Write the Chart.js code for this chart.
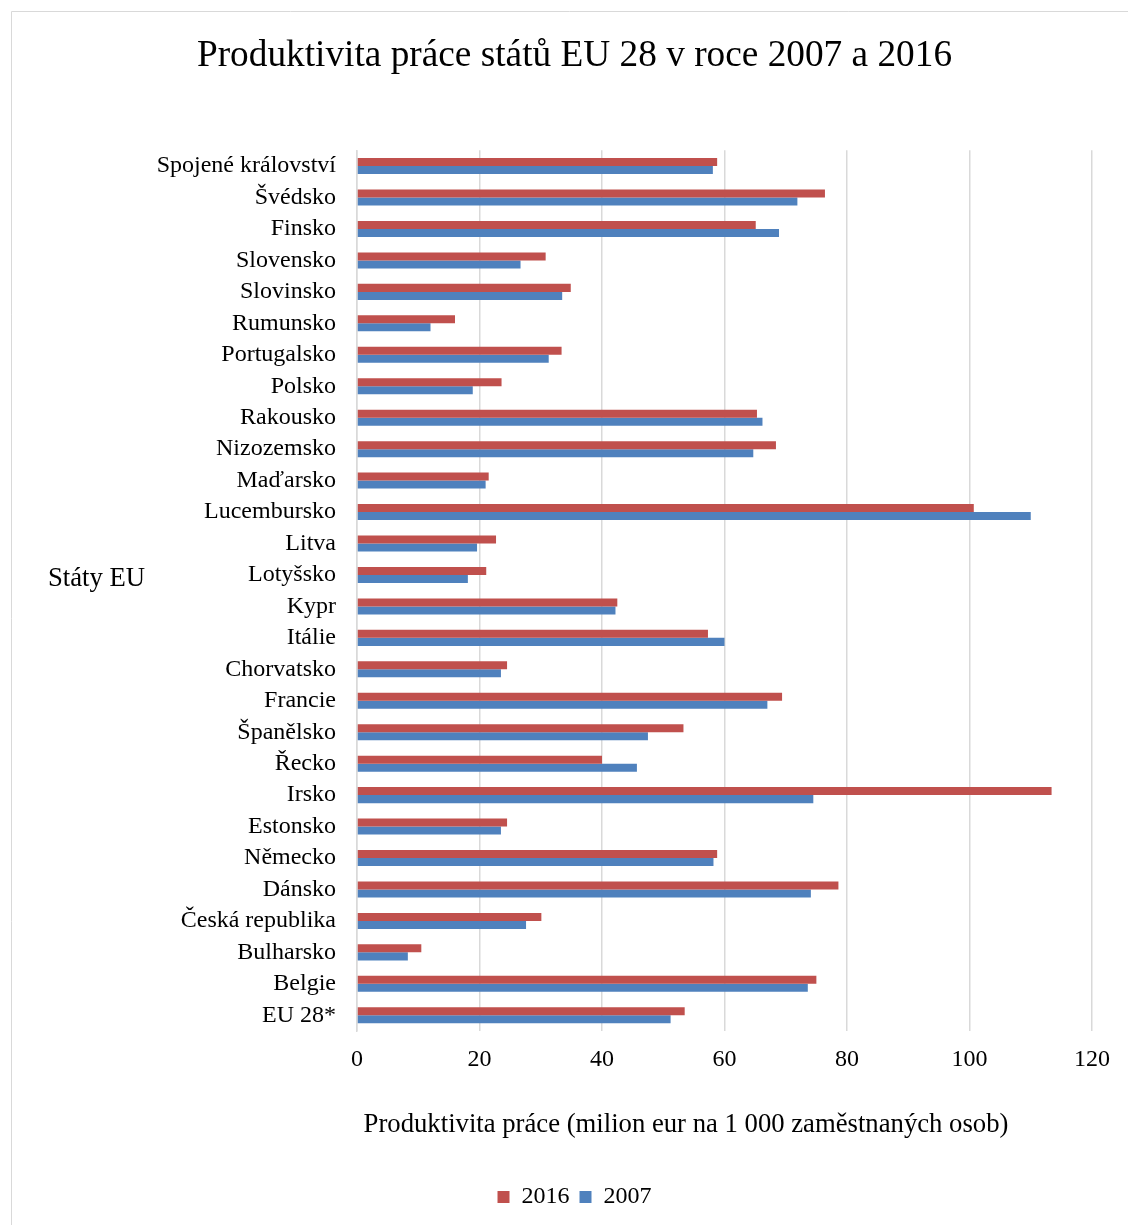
<!DOCTYPE html>
<html>
<head>
<meta charset="utf-8">
<title>Produktivita práce</title>
<script src="https://cdn.jsdelivr.net/npm/chart.js@4/dist/chart.umd.min.js"></script>
<style>
  html, body { margin: 0; padding: 0; background: #fff; overflow: hidden; }
  #canvas-div { width: 1128px; height: 1225px; }
</style>
</head>
<body>
<div id="canvas-div"><canvas id="canvas" width="1128" height="1225"></canvas></div>
<script>
// data, top row first
const states = ['Spojené království', 'Švédsko', 'Finsko', 'Slovensko', 'Slovinsko', 'Rumunsko',
  'Portugalsko', 'Polsko', 'Rakousko', 'Nizozemsko', 'Maďarsko', 'Lucembursko', 'Litva',
  'Lotyšsko', 'Kypr', 'Itálie', 'Chorvatsko', 'Francie', 'Španělsko', 'Řecko', 'Irsko',
  'Estonsko', 'Německo', 'Dánsko', 'Česká republika', 'Bulharsko', 'Belgie', 'EU 28*'];
const prod2016 = [58.8, 76.4, 65.1, 30.8, 34.9, 16.0, 33.4, 23.6, 65.3, 68.4, 21.5, 100.7, 22.7,
  21.1, 42.5, 57.3, 24.5, 69.4, 53.3, 40.0, 113.4, 24.5, 58.8, 78.6, 30.1, 10.5, 75.0, 53.5];
const prod2007 = [58.1, 71.9, 68.9, 26.7, 33.5, 12.0, 31.3, 18.9, 66.2, 64.7, 21.0, 110.0, 19.6,
  18.1, 42.2, 60.0, 23.5, 67.0, 47.5, 45.7, 74.5, 23.5, 58.2, 74.1, 27.6, 8.3, 73.6, 51.2];
const xTicks = [0, 20, 40, 60, 80, 100, 120];

const chartTitle = 'Produktivita práce států EU 28 v roce 2007 a 2016';
const xTitle = 'Produktivita práce (milion eur na 1 000 zaměstnaných osob)';
const yTitle = 'Státy EU';

const serif = '"Liberation Serif", "Times New Roman", serif';
Chart.defaults.font.family = serif;
Chart.defaults.color = '#000';

// frame round the chart and the two axis titles (Excel puts them off-centre, unrotated)
const extras = {
  id: 'extras',
  beforeDraw(chart) {
    const ctx = chart.ctx;
    ctx.save();
    ctx.strokeStyle = '#d9d9d9';
    ctx.lineWidth = 1;
    ctx.beginPath();
    ctx.moveTo(11.5, chart.height);
    ctx.lineTo(11.5, 11.5);
    ctx.lineTo(chart.width, 11.5);
    ctx.stroke();
    ctx.restore();
  },
  afterDraw(chart) {
    const ctx = chart.ctx;
    ctx.save();
    ctx.fillStyle = '#000';
    ctx.font = '26.7px ' + serif;
    ctx.textBaseline = 'middle';
    ctx.textAlign = 'left';
    ctx.fillText(yTitle, 48, 579);
    ctx.textAlign = 'center';
    ctx.fillText(xTitle, 686, 1125);
    ctx.restore();
  }
};

const ctx = document.getElementById('canvas');
const myChart = new Chart(ctx, {
  type: 'bar',
  data: {
    labels: states,
    datasets: [
      { label: '2016', data: prod2016, backgroundColor: '#C0504D', borderWidth: 0 },
      { label: '2007', data: prod2007, backgroundColor: '#4F81BD', borderWidth: 0 }
    ]
  },
  options: {
    indexAxis: 'y',
    responsive: false,
    animation: false,
    categoryPercentage: 0.51,
    barPercentage: 1.0,
    layout: { padding: { left: 57, right: 36, top: 0, bottom: 6 } },
    plugins: {
      tooltip: { enabled: false },
      title: {
        display: true,
        text: chartTitle,
        font: { size: 37.3, weight: 'normal' },
        color: '#000',
        padding: { top: 33.6, bottom: 72 }
      },
      legend: {
        position: 'bottom',
        labels: { boxWidth: 12, boxHeight: 12, padding: 10, font: { size: 24 }, color: '#000' }
      }
    },
    scales: {
      x: {
        min: xTicks[0],
        max: xTicks[xTicks.length - 1],
        ticks: { stepSize: xTicks[1] - xTicks[0], font: { size: 24 }, padding: 14, color: '#000' },
        grid: { color: '#d9d9d9', lineWidth: 1.5, drawTicks: false },
        border: { display: false },
        afterFit(scale) { scale.height = 144; }
      },
      y: {
        ticks: { font: { size: 24 }, padding: 21, color: '#000', autoSkip: false },
        grid: { display: false, drawTicks: false },
        border: { display: true, color: '#d9d9d9', width: 1.5 },
        afterFit(scale) { scale.width = 300; }
      }
    }
  },
  plugins: [extras]
});
</script>
</body>
</html>
